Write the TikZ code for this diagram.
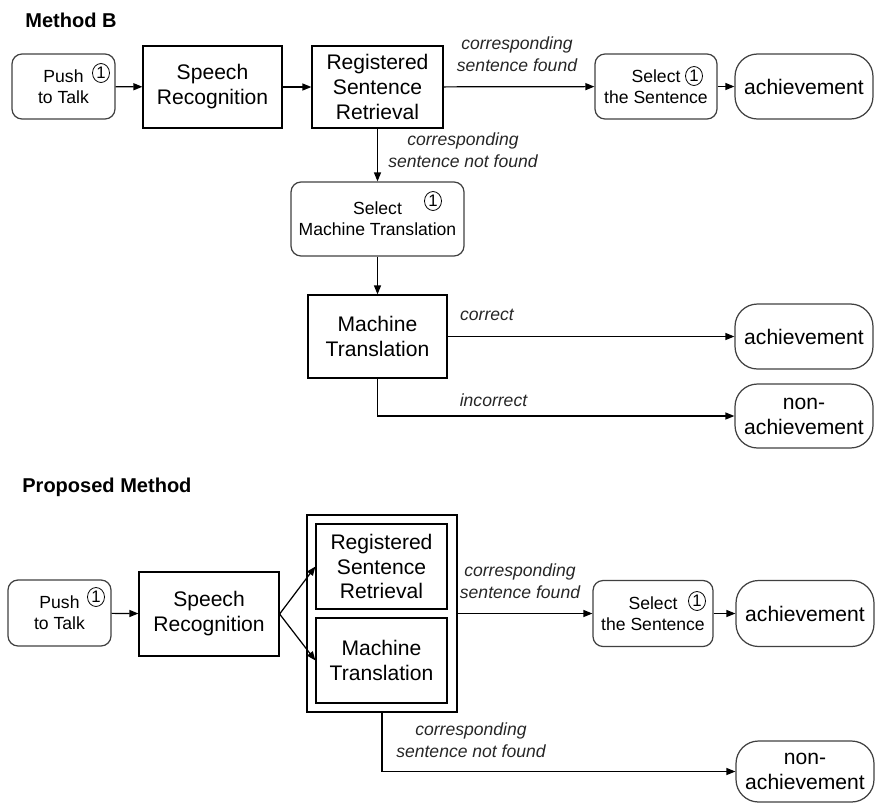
\documentclass[tikz,border=0pt]{standalone}
\usepackage{fontspec}
\setmainfont{Liberation Sans}
\usetikzlibrary{arrows.meta, shapes.geometric}

\begin{document}
\begin{tikzpicture}[x=0.02cm, y=-0.02cm,
    procbox/.style={draw, line width=0.7pt, align=center, inner sep=0pt,
      font=\fontsize{12}{14.2}\selectfont},
    actbox/.style={draw=black!75, line width=0.7pt, rounded corners=0.2cm,
      align=center, inner sep=0pt, font=\fontsize{10}{12}\selectfont},
    endbox/.style={draw=black!75, line width=0.7pt, rounded corners=0.45cm,
      align=center, inner sep=0pt, minimum width=2.76cm,
      font=\fontsize{12}{14.2}\selectfont},
    cond/.style={align=center, inner sep=0pt, text=black!85,
      font=\fontsize{10}{12.4}\selectfont\itshape},
    numsym/.style={draw, ellipse, line width=0.45pt, inner sep=0pt,
      minimum width=0.34cm, minimum height=0.38cm,
      font=\fontsize{9.5}{9.5}\selectfont},
    flow/.style={line width=0.7pt, -{Triangle[length=1.8mm,width=1.4mm]}}]
  \useasboundingbox (0,0) rectangle (875,802);

  % Method B
  \node[anchor=west, inner sep=0pt, font=\fontsize{11.4}{13}\selectfont\bfseries] (titleB) at (25,20) {Method B};
  \node[actbox, minimum width=2.06cm, minimum height=1.30cm] (push1) at (63.5,86.5) {Push\\to Talk};
  \node[numsym] (push1num) at (101,73) {1};
  \node[procbox, minimum width=2.78cm, minimum height=1.64cm] (sr1) at (212.5,87) {Speech\\Recognition};
  \node[procbox, minimum width=2.62cm, minimum height=1.64cm] (rsr1) at (377.5,87) {Registered\\Sentence\\Retrieval};
  \node[actbox, minimum width=2.44cm, minimum height=1.30cm] (sel1) at (656,86.5) {Select\\the Sentence};
  \node[numsym] (sel1num) at (694,76) {1};
  \node[endbox, minimum height=1.30cm] (ach1) at (804,86.5) {achievement};
  \node[cond] (found1) at (517,54) {corresponding\\sentence found};
  \node[cond] (notfound1) at (463,150) {corresponding\\sentence not found};
  \node[actbox, minimum width=3.46cm, minimum height=1.48cm] (selmt) at (377.5,219) {Select\\Machine Translation};
  \node[numsym] (selmtnum) at (433,201) {1};
  \node[procbox, minimum width=2.78cm, minimum height=1.66cm] (mt1) at (377.5,336.5) {Machine\\Translation};
  \node[endbox, minimum height=1.30cm] (ach2) at (804,336.5) {achievement};
  \node[endbox, minimum height=1.28cm] (nach1) at (804,416) {non-\\achievement};
  \node[cond] (correct) at (487,315) {correct};
  \node[cond] (incorrect) at (493.5,400) {incorrect};

  \draw[flow] (push1) -- (sr1);
  \draw[flow] (sr1) -- (rsr1);
  \draw[flow] (rsr1) -- (sel1);
  \draw[flow] (sel1) -- (ach1);
  \draw[flow] (rsr1) -- (selmt);
  \draw[flow] (selmt) -- (mt1);
  \draw[flow] (mt1) -- (ach2);
  \draw[flow] (mt1.south) |- (nach1.west);

  % Proposed Method
  \node[anchor=west, inner sep=0pt, font=\fontsize{11.4}{13}\selectfont\bfseries] (titleP) at (22,487) {Proposed Method};
  \node[actbox, minimum width=2.06cm, minimum height=1.32cm] (push2) at (59.5,613) {Push\\to Talk};
  \node[numsym] (push2num) at (96,597) {1};
  \node[procbox, minimum width=2.80cm, minimum height=1.68cm] (sr2) at (209,614) {Speech\\Recognition};
  \node[draw, line width=0.7pt, minimum width=3.00cm, minimum height=3.94cm] (both) at (382,613.5) {};
  \node[procbox, minimum width=2.62cm, minimum height=1.70cm] (rsr2) at (381.5,566.5) {Registered\\Sentence\\Retrieval};
  \node[procbox, minimum width=2.62cm, minimum height=1.70cm] (mt2) at (381.5,660.5) {Machine\\Translation};
  \node[actbox, minimum width=2.40cm, minimum height=1.32cm] (sel2) at (653,613.5) {Select\\the Sentence};
  \node[numsym] (sel2num) at (697,601) {1};
  \node[endbox, minimum height=1.32cm] (ach3) at (805,613.5) {achievement};
  \node[endbox, minimum height=1.22cm] (nach2) at (805,771.5) {non-\\achievement};
  \node[cond] (found2) at (520,581) {corresponding\\sentence found};
  \node[cond] (notfound2) at (471,740) {corresponding\\sentence not found};

  \draw[flow] (push2) -- (sr2);
  \draw[flow] (sr2.east) -- (rsr2.west);
  \draw[flow] (sr2.east) -- (mt2.west);
  \draw[flow] (both) -- (sel2);
  \draw[flow] (sel2) -- (ach3);
  \draw[flow] (both.south) |- (nach2.west);
\end{tikzpicture}
\end{document}
